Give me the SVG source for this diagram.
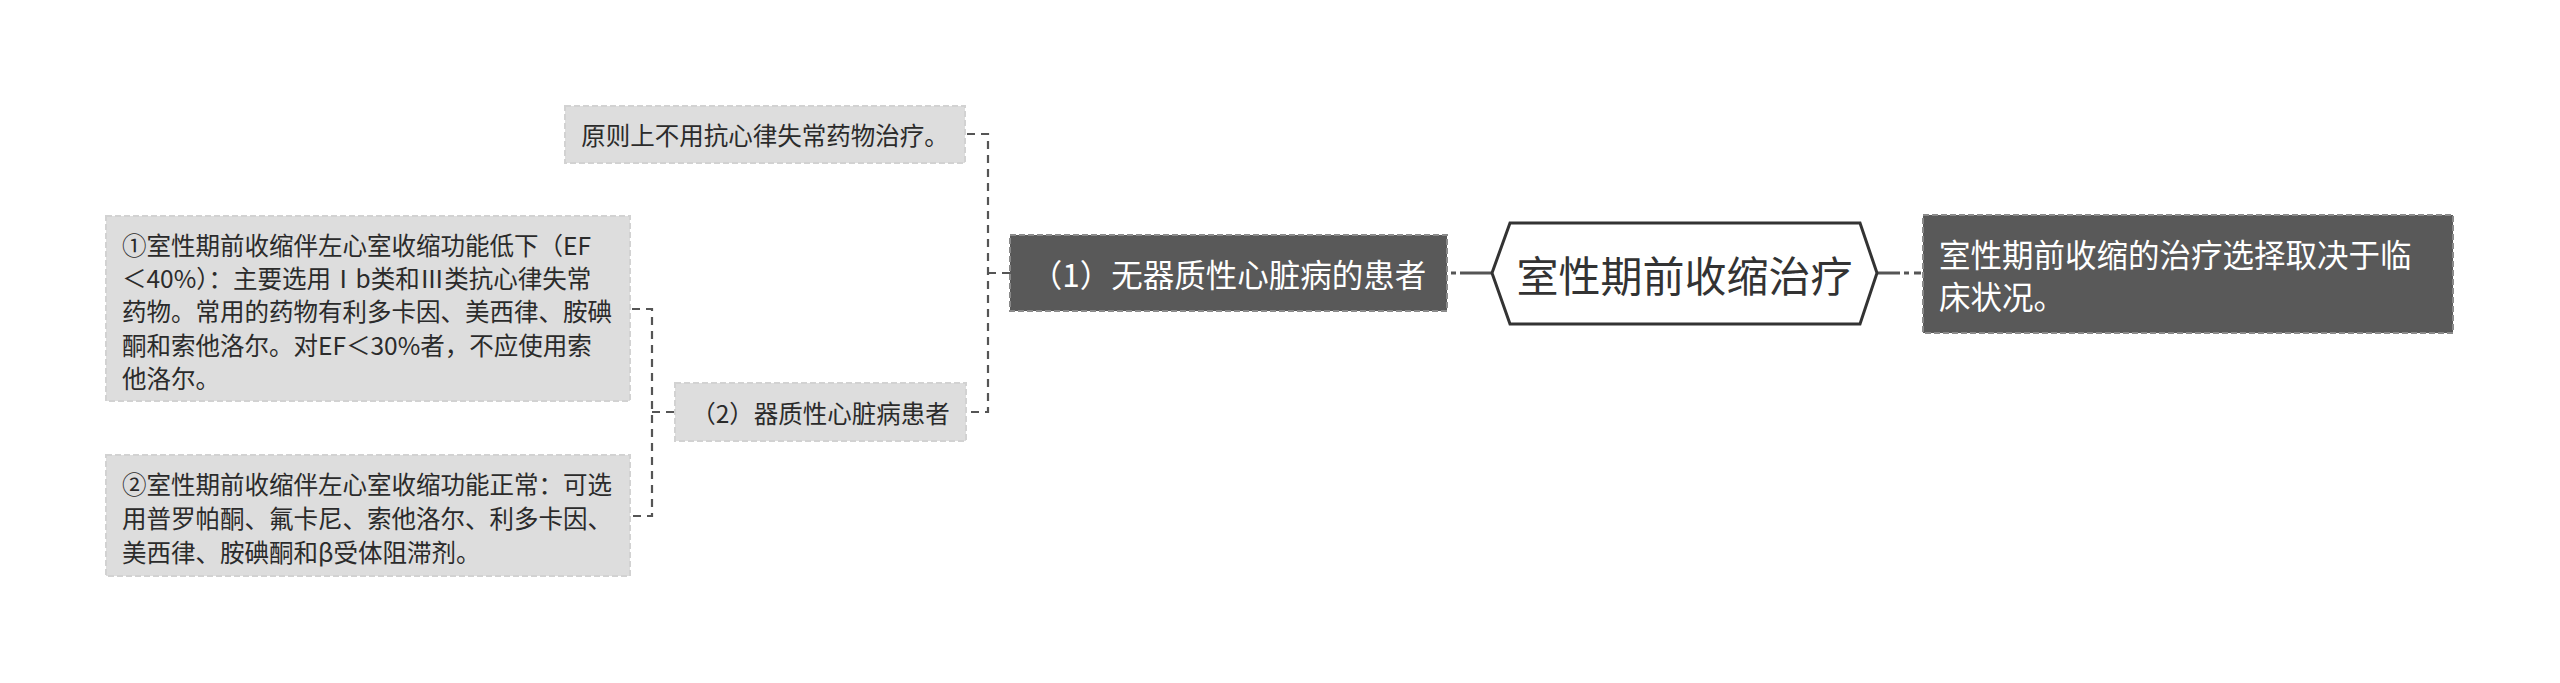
<svg xmlns="http://www.w3.org/2000/svg" width="2560" height="683" viewBox="0 0 2560 683">
<style>
text{font-family:"Noto Sans CJK SC","Noto Sans",sans-serif;dominant-baseline:central}
.light{fill:#dddddd;stroke:#d2d2d2;stroke-width:2;stroke-dasharray:6 3}
.dark{fill:#595959;stroke:#8a8a8a;stroke-width:2;stroke-dasharray:6 3}
.tl{fill:#2b2b2b;font-size:24.5px}
.td{fill:#ffffff;font-size:31.5px}
.conn{fill:none;stroke:#555;stroke-width:2.2;stroke-dasharray:8 6}
.main{fill:none;stroke:#555;stroke-width:3}
</style>
<rect width="2560" height="683" fill="#ffffff"/>
<g id="connectors">
<path class="main" d="M1492 273 H1460" />
<path class="main" d="M1456 273 H1451" stroke-width="2.2"/>
<path class="main" d="M1877 273 H1900" />
<path class="main" d="M1904 273 H1909 M1914 273 H1921" stroke-width="2.2"/>
<path class="conn" d="M967 134 H988 V412 H967" />
<path class="conn" d="M988 273 H1010" />
<path class="conn" d="M632 309 H652 V516 H632" />
<path class="conn" d="M652 412 H675" />
</g>
<g id="root">
<polygon points="1492,273 1510,223 1860,223 1877,273 1860,324 1510,324" fill="#ffffff" stroke="#333" stroke-width="3"/>
<text x="1684.5" y="273" text-anchor="middle" font-size="42" fill="#333">室性期前收缩治疗</text>
</g>
<g id="node-right">
<rect class="dark" x="1923" y="215" width="530" height="118"/>
<text class="td" x="1939" y="253" font-size="32">室性期前收缩的治疗选择取决于临</text>
<text class="td" x="1939" y="295" font-size="32">床状况。</text>
</g>
<g id="node-1">
<rect class="dark" x="1010" y="235" width="437" height="76"/>
<text class="td" x="1228.5" y="273" text-anchor="middle">（1）无器质性心脏病的患者</text>
</g>
<g id="node-top">
<rect class="light" x="565" y="106" width="400" height="57"/>
<text class="tl" x="765" y="134.5" text-anchor="middle" font-size="24">原则上不用抗心律失常药物治疗。</text>
</g>
<g id="node-2">
<rect class="light" x="675" y="383" width="291" height="58"/>
<text class="tl" x="820.5" y="412" text-anchor="middle">（2）器质性心脏病患者</text>
</g>
<g id="node-2-1">
<rect class="light" x="106" y="216" width="524" height="185"/>
<text class="tl" x="122" y="244">①室性期前收缩伴左心室收缩功能低下（EF</text>
<text class="tl" x="122" y="277">＜40%）：主要选用Ⅰb类和Ⅲ类抗心律失常</text>
<text class="tl" x="122" y="310">药物。常用的药物有利多卡因、美西律、胺碘</text>
<text class="tl" x="122" y="344">酮和索他洛尔。对EF＜30%者，不应使用索</text>
<text class="tl" x="122" y="377">他洛尔。</text>
</g>
<g id="node-2-2">
<rect class="light" x="106" y="455" width="524" height="121"/>
<text class="tl" x="122" y="483">②室性期前收缩伴左心室收缩功能正常：可选</text>
<text class="tl" x="122" y="517">用普罗帕酮、氟卡尼、索他洛尔、利多卡因、</text>
<text class="tl" x="122" y="551">美西律、胺碘酮和β受体阻滞剂。</text>
</g>
</svg>
